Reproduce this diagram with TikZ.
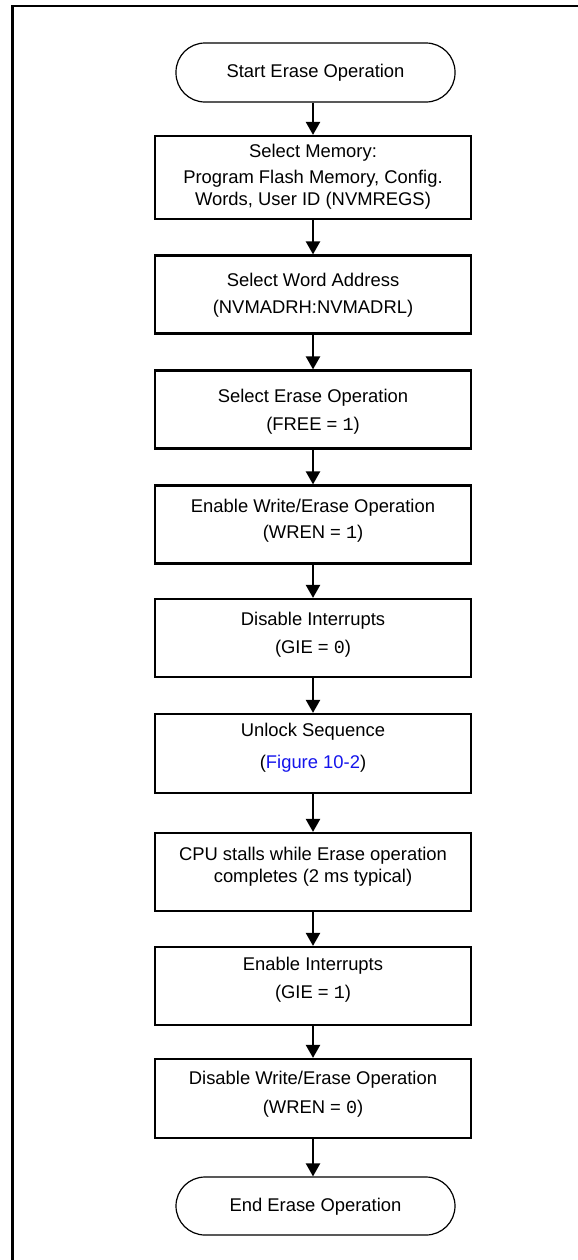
\documentclass[tikz,border=0pt]{standalone}
\usepackage{fontspec}
\setmainfont{Liberation Sans}
\newfontfamily\monofnt{Liberation Mono}
\usetikzlibrary{arrows.meta}
\definecolor{linkblue}{RGB}{20,20,235}
\newcommand{\dg}[1]{{\monofnt #1}}
\tikzset{
  box/.style={draw, line width=1.1pt, minimum width=158pt, minimum height=39pt, inner sep=0pt},
  term/.style={draw, line width=0.6pt, rounded corners=14.5pt, minimum width=139.5pt, minimum height=29.5pt, inner sep=0pt},
  txt/.style={align=center, inner sep=0pt, font=\fontsize{9.2}{11}\selectfont},
  flow/.style={-{Triangle[length=6.5pt,width=7pt]}, line width=1.1pt},
  frame/.style={line width=1.2pt}
}
\begin{document}
\begin{tikzpicture}[x=0.5pt,y=-0.5pt]
\useasboundingbox (0,0) rectangle (578,1260);
% frame
\coordinate (fa) at (12.5,1260);
\coordinate (fb) at (12.5,6);
\coordinate (fc) at (578,6);
\draw[frame] (fa) -- (fb) -- (fc);

% terminators
\node[term] (start) at (315.5,72.5) {};
\node[txt] (tstart) at (315.5,73) {Start Erase Operation};
\node[term, minimum height=29pt] (end) at (315.5,1206) {};
\node[txt] (tend) at (315.5,1207) {End Erase Operation};

% boxes
\node[box, minimum height=41.5pt] (b1) at (313,177.5) {};
\node[box] (b2) at (313,294.5) {};
\node[box] (b3) at (313,409.5) {};
\node[box] (b4) at (313,524.5) {};
\node[box] (b5) at (313,638) {};
\node[box, minimum height=39.5pt] (b6) at (313,753.5) {};
\node[box] (b7) at (313,872) {};
\node[box] (b8) at (313,986) {};
\node[box, minimum height=39.5pt] (b9) at (313,1098.5) {};

% texts
\node[txt] (t1) at (313,177) {Select Memory:\\[2pt]Program Flash Memory, Config.\\Words, User ID (NVMREGS)};
\node[txt] (t2) at (313,295) {Select Word Address\\[2.5pt](NVMADRH:NVMADRL)};
\node[txt] (t3) at (313,412) {Select Erase Operation\\[3pt](FREE = \dg{1})};
\node[txt] (t4) at (313,521) {Enable Write/Erase Operation\\[2pt](WREN = \dg{1})};
\node[txt] (t5) at (313,635) {Disable Interrupts\\[3pt](GIE = \dg{0})};
\node[txt] (t6) at (313,748) {Unlock Sequence\\[5pt](\textcolor{linkblue}{Figure 10-2})};
\node[txt] (t7) at (313,867) {CPU stalls while Erase operation\\completes (2 ms typical)};
\node[txt] (t8) at (313,980) {Enable Interrupts\\[3pt](GIE = \dg{1})};
\node[txt] (t9) at (313,1094) {Disable Write/Erase Operation\\[3.5pt](WREN = \dg{0})};

% connectors
\draw[flow] (start.south -| b1.north) -- (b1.north);
\draw[flow] (b1) -- (b2);
\draw[flow] (b2) -- (b3);
\draw[flow] (b3) -- (b4);
\draw[flow] (b4) -- (b5);
\draw[flow] (b5) -- (b6);
\draw[flow] (b6) -- (b7);
\draw[flow] (b7) -- (b8);
\draw[flow] (b8) -- (b9);
\draw[flow] (b9.south) -- (b9.south |- end.north);
\end{tikzpicture}
\end{document}
